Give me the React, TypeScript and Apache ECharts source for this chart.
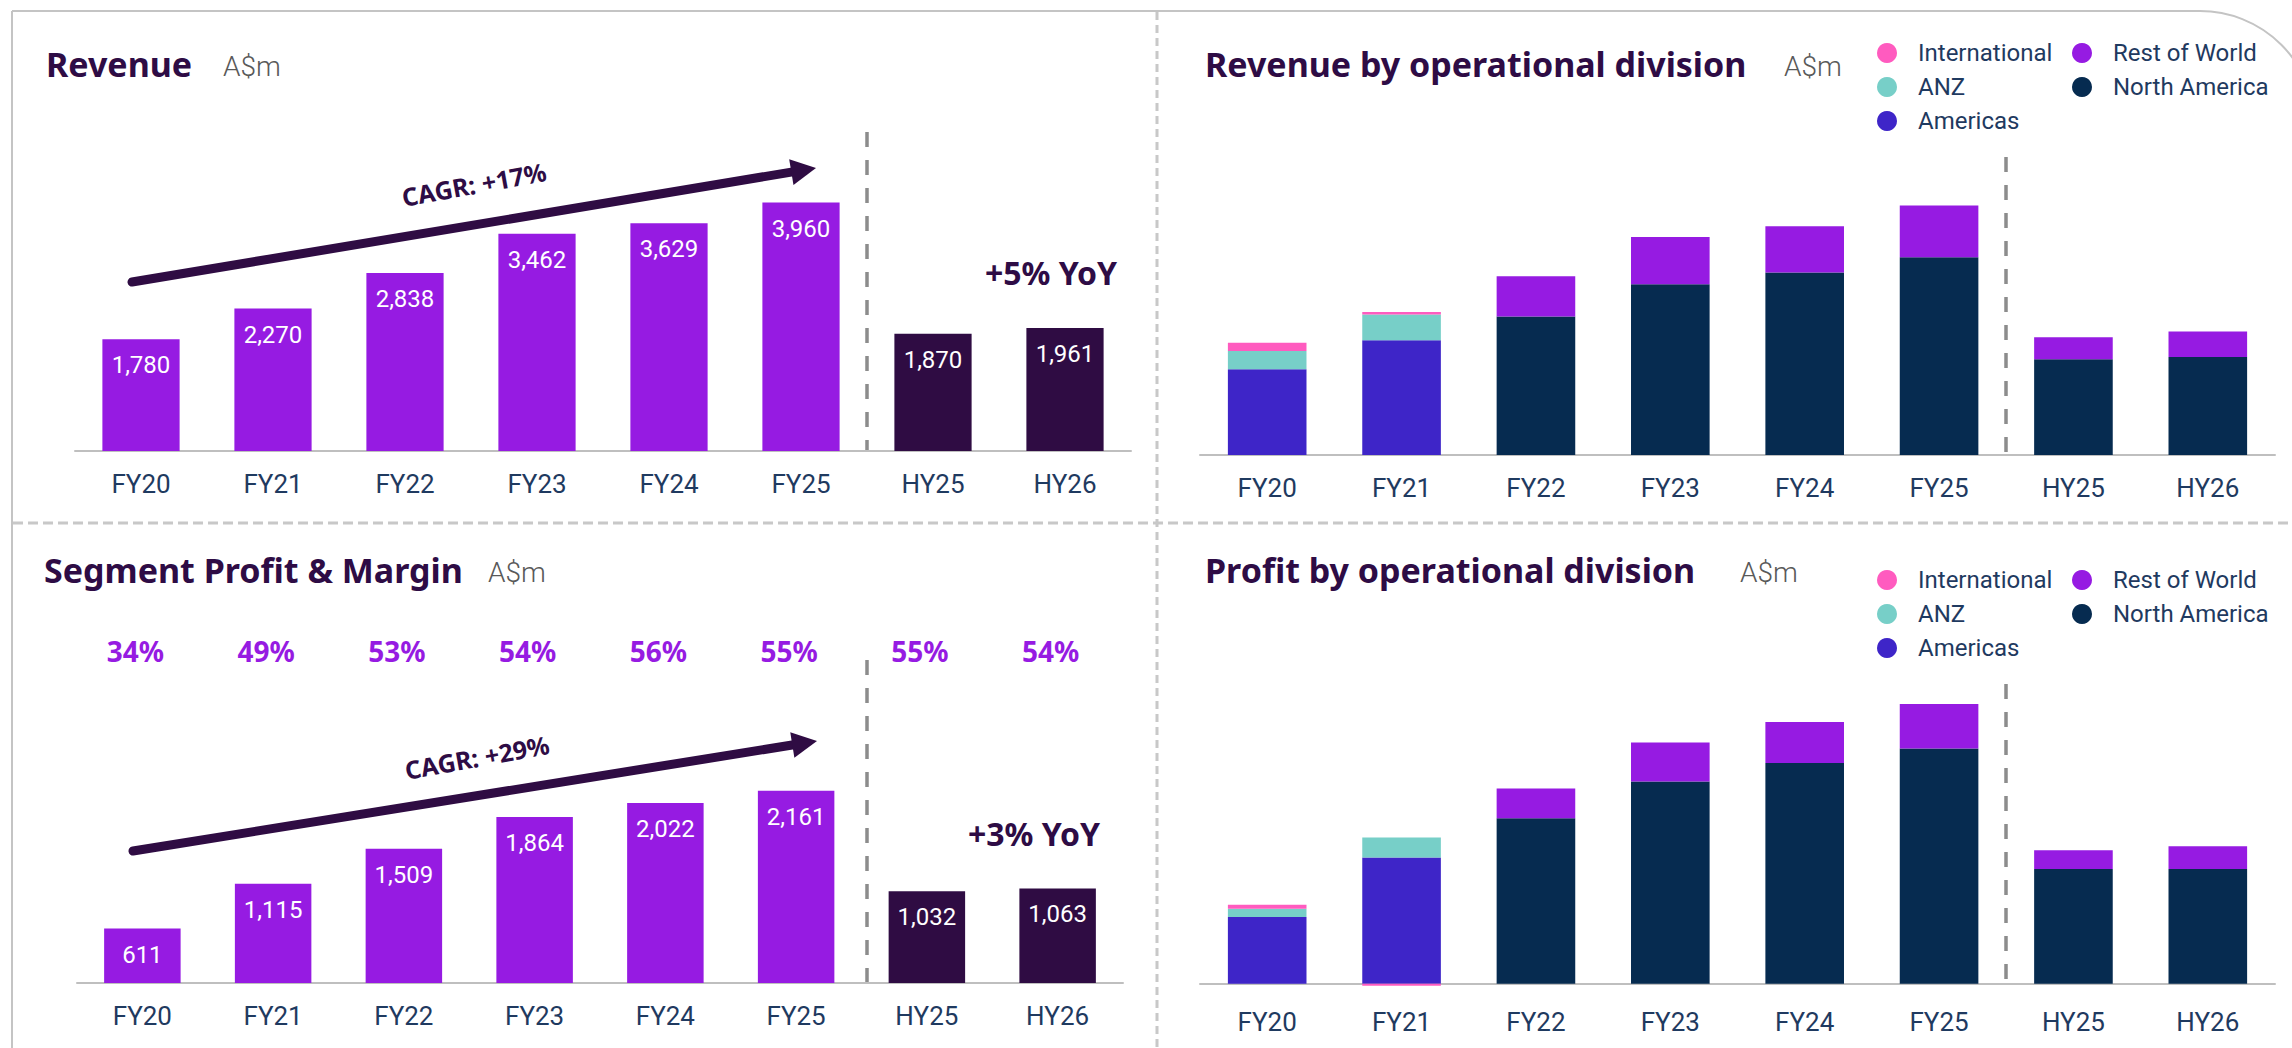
import React, { useEffect, useRef } from 'react';
import * as echarts from 'echarts';

// ---------- data ----------
const periods = ['FY20', 'FY21', 'FY22', 'FY23', 'FY24', 'FY25', 'HY25', 'HY26'];
const revenue = [1780, 2270, 2838, 3462, 3629, 3960, 1870, 1961];
const segmentProfit = [611, 1115, 1509, 1864, 2022, 2161, 1032, 1063];
const marginPct = [34, 49, 53, 54, 56, 55, 55, 54];

const revAmericas = [1360, 1820, null, null, null, null, null, null];
const revANZ = [290, 410, null, null, null, null, null, null];
const revInternational = [130, 40, null, null, null, null, null, null];
const revNorthAmerica = [null, null, 2200, 2710, 2895, 3140, 1520, 1555];
const revRestOfWorld = [null, null, 638, 752, 734, 820, 350, 406];

const profAmericas = [516, 975, null, null, null, null, null, null];
const profANZ = [63, 155, null, null, null, null, null, null];
const profInternational = [32, -15, null, null, null, null, null, null];
const profNorthAmerica = [null, null, 1279, 1562, 1706, 1817, 886, 886];
const profRestOfWorld = [null, null, 230, 302, 316, 344, 146, 177];

const cagrRevenue = 'CAGR: +17%';
const cagrProfit = 'CAGR: +29%';
const yoyRevenue = '+5% YoY';
const yoyProfit = '+3% YoY';

// ---------- styles ----------
const PURPLE = '#961BE2';
const DARK = '#2F0C43';
const TITLE = '#2E0C45';
const LABEL = '#1F3A60';
const C_INTL = '#FF5BBF';
const C_ANZ = '#77CFC8';
const C_AMER = '#3E25C8';
const C_NA = '#062B50';
const C_ROW = '#961BE2';
const TITLE_FONT = '"Noto Sans", sans-serif';
const BODY_FONT = 'Roboto, sans-serif';

const fmt = (v: number) => v.toLocaleString('en-US');

function arrowEls(x1: number, y1: number, x2: number, y2: number) {
  const dx = x2 - x1, dy = y2 - y1;
  const L = Math.hypot(dx, dy);
  const ux = dx / L, uy = dy / L;
  const head = 25, hw = 13;
  const bx = x2 - ux * head, by = y2 - uy * head;
  const px = -uy, py = ux;
  return [
    {
      type: 'line',
      shape: { x1, y1, x2: bx + ux * 3, y2: by + uy * 3 },
      style: { stroke: DARK, lineWidth: 9, lineCap: 'round' },
    },
    {
      type: 'polygon',
      shape: { points: [[x2, y2], [bx + px * hw, by + py * hw], [bx - px * hw, by - py * hw]] },
      style: { fill: DARK },
    },
  ];
}

function txt(text: string, x: number, y: number, size: number, color: string, weight: any, family: string, align = 'left', rotation = 0) {
  return {
    type: 'text',
    x,
    y,
    rotation,
    style: {
      text,
      fill: color,
      fontSize: size,
      fontWeight: weight,
      fontFamily: family,
      align,
      verticalAlign: 'middle',
      textAlign: align,
      textVerticalAlign: 'middle',
    },
  };
}

function simpleBars(values: number[], xi: number, yi: number) {
  return {
    type: 'bar',
    xAxisIndex: xi,
    yAxisIndex: yi,
    barWidth: '58.5%',
    data: values.map((v, i) => ({
      value: v,
      itemStyle: { color: periods[i].startsWith('HY') ? DARK : PURPLE },
    })),
    label: {
      show: true,
      position: 'insideTop',
      distance: 14,
      color: '#FFFFFF',
      fontSize: 24,
      fontFamily: BODY_FONT,
      formatter: (p: any) => fmt(p.value),
    },
  };
}

function stackBars(name: string, values: (number | null)[], color: string, xi: number, yi: number, stack: string) {
  return {
    type: 'bar',
    name,
    stack,
    xAxisIndex: xi,
    yAxisIndex: yi,
    barWidth: '58.5%',
    itemStyle: { color },
    data: values,
  };
}

function catAxis(gridIndex: number) {
  return {
    type: 'category',
    gridIndex,
    data: periods,
    axisLine: { lineStyle: { color: '#BFBFBF', width: 2 } },
    axisTick: { show: false },
    axisLabel: { color: LABEL, fontSize: 26, fontFamily: BODY_FONT, margin: 20 },
  };
}

export default function App() {
  const ref = useRef<HTMLDivElement>(null);
  useEffect(() => {
    if (!ref.current) return;
    const chart = echarts.init(ref.current, null, { renderer: 'svg' });

    const legendCommon = {
      orient: 'vertical',
      icon: 'circle',
      itemWidth: 40,
      itemHeight: 20,
      itemGap: 8,
      selectedMode: false,
      textStyle: { fontSize: 24, color: LABEL, fontFamily: BODY_FONT, padding: [0, 0, 0, 6], lineHeight: 26 },
    };

    const graphic: any[] = [
      // frame
      {
        type: 'rect',
        shape: { x: 12, y: 11, width: 2303, height: 1100, r: [0, 115, 0, 0] },
        style: { fill: 'none', stroke: '#C4C4C4', lineWidth: 2 },
      },
      {
        type: 'line',
        shape: { x1: 1157, y1: 12, x2: 1157, y2: 1048 },
        style: { stroke: '#C8C8C8', lineWidth: 3, lineDash: [8, 5] },
      },
      {
        type: 'line',
        shape: { x1: 13, y1: 523, x2: 2292, y2: 523 },
        style: { stroke: '#C8C8C8', lineWidth: 3, lineDash: [10, 5] },
      },
      // period dividers
      { type: 'line', shape: { x1: 867, y1: 132, x2: 867, y2: 450 }, style: { stroke: '#8C8C8C', lineWidth: 3.5, lineDash: [15, 13] } },
      { type: 'line', shape: { x1: 867, y1: 660, x2: 867, y2: 982 }, style: { stroke: '#8C8C8C', lineWidth: 3.5, lineDash: [15, 13] } },
      { type: 'line', shape: { x1: 2006, y1: 157, x2: 2006, y2: 454 }, style: { stroke: '#8C8C8C', lineWidth: 3.5, lineDash: [15, 13] } },
      { type: 'line', shape: { x1: 2006, y1: 684, x2: 2006, y2: 983 }, style: { stroke: '#8C8C8C', lineWidth: 3.5, lineDash: [15, 13] } },
      // titles
      txt('Revenue', 46, 64, 34, TITLE, 'bold', TITLE_FONT),
      txt('A$m', 223, 66, 28, '#595959', 300, BODY_FONT),
      txt('Revenue by operational division', 1205, 64, 34, TITLE, 'bold', TITLE_FONT),
      txt('A$m', 1784, 66, 28, '#595959', 300, BODY_FONT),
      txt('Segment Profit & Margin', 44, 570, 34, TITLE, 'bold', TITLE_FONT),
      txt('A$m', 488, 572, 28, '#595959', 300, BODY_FONT),
      txt('Profit by operational division', 1205, 570, 34, TITLE, 'bold', TITLE_FONT),
      txt('A$m', 1740, 572, 28, '#595959', 300, BODY_FONT),
      // arrows
      ...arrowEls(132, 282, 816, 168),
      ...arrowEls(133, 851, 817, 741),
      txt(cagrRevenue, 474, 184, 25, TITLE, 'bold', TITLE_FONT, 'center', 0.18),
      txt(cagrProfit, 477, 757, 25, TITLE, 'bold', TITLE_FONT, 'center', 0.18),
      txt(yoyRevenue, 1051, 272, 32, TITLE, 'bold', TITLE_FONT, 'center'),
      txt(yoyProfit, 1034, 833, 32, TITLE, 'bold', TITLE_FONT, 'center'),
    ];

    chart.setOption({
      animation: false,
      backgroundColor: '#FFFFFF',
      grid: [
        { left: 75, top: 200, width: 1056, height: 251 },
        { left: 77, top: 716, width: 1046, height: 267 },
        { left: 1200, top: 203, width: 1075, height: 252 },
        { left: 1200, top: 699, width: 1075, height: 290 },
      ],
      xAxis: [
        catAxis(0),
        catAxis(1),
        catAxis(2),
        catAxis(3),
        {
          type: 'category',
          gridIndex: 1,
          position: 'top',
          data: marginPct.map((m) => m + '%'),
          axisLine: { show: false },
          axisTick: { show: false },
          axisLabel: { color: PURPLE, fontSize: 28, fontWeight: 'bold', fontFamily: TITLE_FONT, margin: 51, padding: [0, 14, 0, 0] },
        },
      ],
      yAxis: [
        { type: 'value', gridIndex: 0, min: 0, max: 4000, show: false },
        { type: 'value', gridIndex: 1, min: 0, max: 3000, show: false },
        { type: 'value', gridIndex: 2, min: 0, max: 4000, show: false },
        { type: 'value', gridIndex: 3, min: -40, max: 2200, show: false },
      ],
      legend: [
        { ...legendCommon, data: ['International', 'ANZ', 'Americas'], left: 1872, top: 35 },
        { ...legendCommon, data: ['Rest of World', 'North America'], left: 2067, top: 35 },
        { ...legendCommon, data: ['International', 'ANZ', 'Americas'], left: 1872, top: 562 },
        { ...legendCommon, data: ['Rest of World', 'North America'], left: 2067, top: 562 },
      ],
      series: [
        simpleBars(revenue, 0, 0),
        simpleBars(segmentProfit, 1, 1),
        stackBars('Americas', revAmericas, C_AMER, 2, 2, 'rev'),
        stackBars('ANZ', revANZ, C_ANZ, 2, 2, 'rev'),
        stackBars('International', revInternational, C_INTL, 2, 2, 'rev'),
        stackBars('North America', revNorthAmerica, C_NA, 2, 2, 'rev'),
        stackBars('Rest of World', revRestOfWorld, C_ROW, 2, 2, 'rev'),
        stackBars('Americas', profAmericas, C_AMER, 3, 3, 'prof'),
        stackBars('ANZ', profANZ, C_ANZ, 3, 3, 'prof'),
        stackBars('International', profInternational, C_INTL, 3, 3, 'prof'),
        stackBars('North America', profNorthAmerica, C_NA, 3, 3, 'prof'),
        stackBars('Rest of World', profRestOfWorld, C_ROW, 3, 3, 'prof'),
      ],
      graphic,
    });

    return () => chart.dispose();
  }, []);

  return <div ref={ref} style={{ position: 'fixed', left: 0, top: 0, width: 2292, height: 1048 }} />;
}
